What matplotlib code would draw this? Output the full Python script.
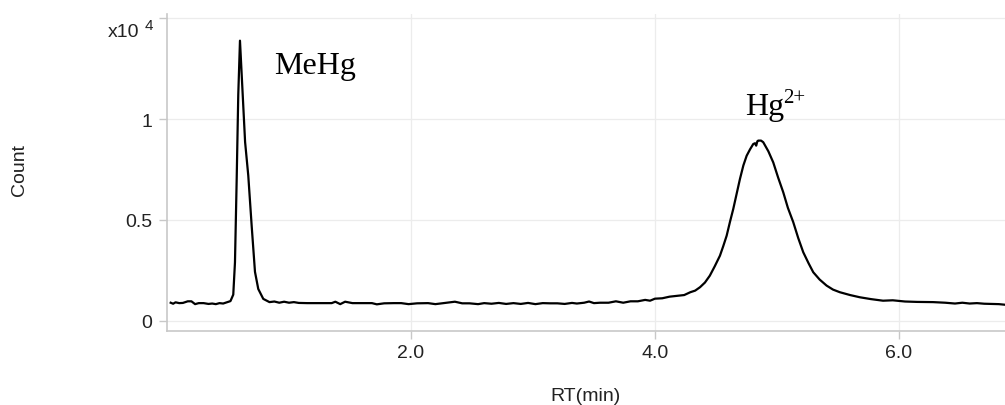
import matplotlib
matplotlib.use("Agg")
import matplotlib.pyplot as plt

# Retention time (min) and detector count (x10^4) of the chromatogram trace
rt = [
    0.03, 0.05, 0.07, 0.10, 0.13, 0.17, 0.20, 0.23, 0.26, 0.30, 0.34, 0.37,
    0.40, 0.43, 0.46, 0.49, 0.52, 0.543,
    0.557, 0.571, 0.584, 0.598, 0.64, 0.666, 0.694, 0.721, 0.748, 0.789, 0.84,
    0.88, 0.92, 0.96, 1.00, 1.04, 1.08, 1.15, 1.25, 1.35, 1.38, 1.42, 1.46,
    1.52, 1.60, 1.68, 1.72, 1.78, 1.86, 1.92, 1.98, 2.05, 2.14, 2.20, 2.28,
    2.36, 2.42, 2.48, 2.55, 2.60, 2.66, 2.72, 2.78, 2.84, 2.90, 2.96, 3.02,
    3.08, 3.14, 3.20, 3.26, 3.32, 3.36, 3.42, 3.46, 3.50, 3.55, 3.62, 3.68,
    3.74, 3.80, 3.86, 3.92, 3.96, 4.00,
    4.06, 4.12, 4.18, 4.24, 4.29, 4.33, 4.37, 4.41, 4.45, 4.49, 4.533, 4.56,
    4.588, 4.615, 4.642, 4.67, 4.697, 4.725, 4.752, 4.78, 4.806, 4.82, 4.83,
    4.84, 4.847, 4.87, 4.888, 4.93, 4.97, 5.01, 5.052, 5.09, 5.134, 5.175,
    5.216, 5.26, 5.298, 5.35, 5.407, 5.46, 5.516, 5.60, 5.68, 5.77, 5.87,
    5.95, 6.05, 6.15, 6.28, 6.38, 6.46, 6.52, 6.58, 6.64, 6.70, 6.76, 6.82,
    6.87,
]
count = [
    0.090, 0.085, 0.092, 0.088, 0.089, 0.097, 0.097, 0.083, 0.088, 0.088,
    0.084, 0.086, 0.083, 0.088, 0.086, 0.092, 0.098, 0.130,
    0.290, 0.700, 1.120, 1.388, 0.886, 0.720, 0.470, 0.243, 0.158, 0.109,
    0.093,
    0.096, 0.090, 0.095, 0.090, 0.093, 0.089, 0.088, 0.088, 0.088, 0.095,
    0.083, 0.095, 0.088, 0.088, 0.088, 0.082, 0.087, 0.088, 0.088, 0.083,
    0.087, 0.088, 0.083, 0.089, 0.095, 0.087, 0.087, 0.083, 0.088, 0.085,
    0.089, 0.084, 0.088, 0.084, 0.089, 0.083, 0.088, 0.087, 0.087, 0.084,
    0.089, 0.086, 0.090, 0.096, 0.088, 0.090, 0.090, 0.097, 0.090, 0.097,
    0.097, 0.104, 0.100, 0.110,
    0.112, 0.120, 0.124, 0.128, 0.142, 0.150, 0.167, 0.190, 0.224, 0.270,
    0.323, 0.370, 0.422, 0.490, 0.554, 0.630, 0.703, 0.770, 0.818, 0.850,
    0.876, 0.880, 0.868, 0.890, 0.893, 0.893, 0.885, 0.840, 0.785, 0.710,
    0.637, 0.560, 0.489, 0.410, 0.340, 0.285, 0.241, 0.205, 0.175, 0.155,
    0.142, 0.128, 0.117, 0.108, 0.100, 0.102, 0.096, 0.094, 0.093, 0.090,
    0.086, 0.090, 0.086, 0.088, 0.085, 0.084, 0.083, 0.080,
]

x_ticks = [2.0, 4.0, 6.0]
x_tick_labels = ["2.0", "4.0", "6.0"]
y_ticks = [0, 0.5, 1.0, 1.5]
y_tick_labels = ["0", "0.5", "1", ""]

sans = ["Liberation Sans", "DejaVu Sans"]
serif = ["Liberation Serif", "DejaVu Serif"]
ink = "#222222"

fig = plt.figure(figsize=(10.05, 4.06), dpi=100)
ax = fig.add_axes([0.1662, 0.1823, 0.8338, 0.7807])

ax.plot(rt, count, color="black", linewidth=1.6, solid_joinstyle="round")

ax.set_xlim(0.0, 6.87)
ax.set_ylim(-0.05, 1.52)
ax.set_xticks(x_ticks)
ax.set_xticklabels(x_tick_labels, fontfamily=sans, fontsize=14, color=ink)
ax.set_yticks(y_ticks)
ax.set_yticklabels(y_tick_labels, fontfamily=sans, fontsize=14, color=ink)

ax.grid(True, color="#ececec", linewidth=0.9)
ax.set_axisbelow(True)
for side in ("top", "right"):
    ax.spines[side].set_visible(False)
for side in ("left", "bottom"):
    ax.spines[side].set_color("#c8c8c8")
    ax.spines[side].set_linewidth(1.2)
ax.tick_params(axis="both", colors="#c8c8c8", length=6, width=1.0,
               labelcolor=ink)
ax.tick_params(axis="x", pad=3.5)
ax.tick_params(axis="y", pad=4.5)

# Axis titles
fig.text(0.583, 0.012, "RT(min)", ha="center", va="baseline",
         fontfamily=sans, fontsize=14, color=ink)
fig.text(0.019, 0.581, "Count", rotation=90, ha="center", va="center",
         fontfamily=sans, fontsize=14, color=ink)

# Scale factor on the y axis
fig.text(0.107, 0.921, "x10", ha="left", va="center", fontfamily=sans,
         fontsize=14, color=ink)
fig.text(0.144, 0.937, "4", ha="left", va="center", fontfamily=sans,
         fontsize=11, color=ink)

# Peak labels
ax.text(0.88, 1.23, "MeHg", fontfamily=serif, fontsize=23, color="black",
        ha="left", va="baseline")
ax.text(4.738, 1.025, "Hg", fontfamily=serif, fontsize=23, color="black",
        ha="left", va="baseline")
ax.text(5.05, 1.085, "2+", fontfamily=serif, fontsize=15, color="black",
        ha="left", va="baseline")

fig.savefig("out.png", dpi=100)
